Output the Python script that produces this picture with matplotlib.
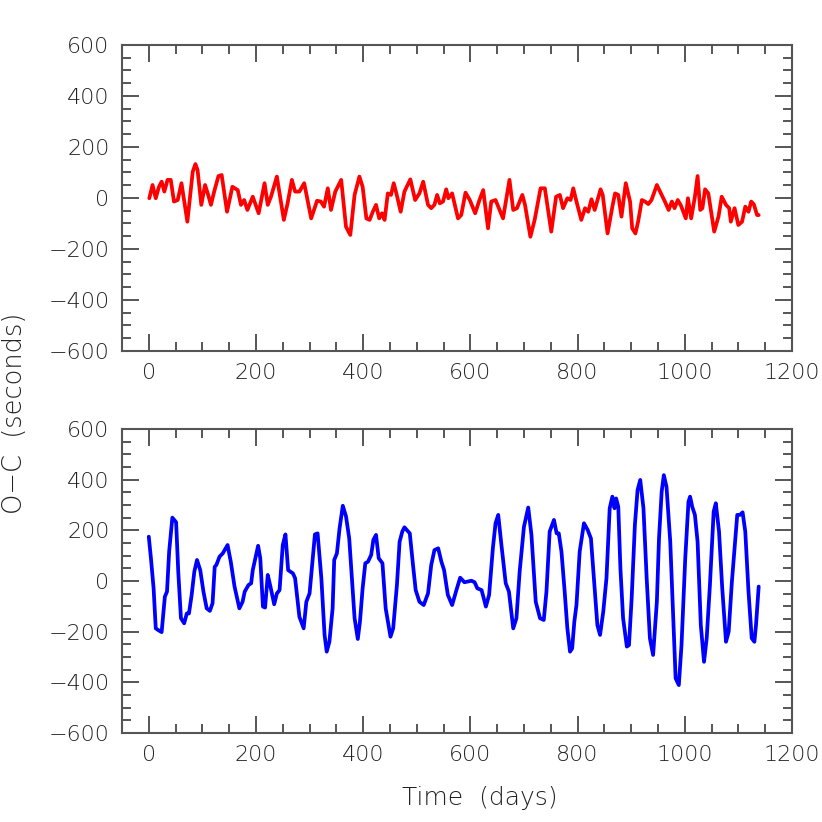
import matplotlib
matplotlib.use("Agg")
import matplotlib.pyplot as plt
from matplotlib.ticker import MultipleLocator

# Top panel (red): time (days), O-C (seconds)
t_top = [1, 7, 13, 19, 24, 29, 35, 41, 47, 54, 61, 72, 82, 87, 91, 98, 105, 110, 116, 122,
         130, 136, 146, 156, 166, 172, 178, 184, 194, 205, 216, 222, 228, 239, 252, 259, 267,
         273, 281, 290, 303, 314, 321, 327, 334, 340, 348, 359, 368, 376, 384, 393, 399, 406,
         412, 418, 424, 430, 435, 440, 446, 452, 457, 462, 470, 477, 488, 497, 505, 512, 521,
         527, 533, 538, 543, 549, 555, 559, 566, 577, 583, 591, 599, 609, 617, 624, 633, 639,
         647, 661, 673, 680, 687, 697, 702, 712, 720, 731, 739, 751, 760, 767, 773, 781, 787,
         792, 798, 807, 814, 820, 826, 832, 843, 847, 856, 865, 870, 876, 882, 890, 898, 902,
         908, 913, 920, 926, 932, 938, 948, 957, 963, 970, 976, 981, 987, 993, 1002, 1006, 1012,
         1019, 1024, 1029, 1033, 1038, 1044, 1055, 1063, 1069, 1077, 1083, 1086, 1093, 1100,
         1107, 1113, 1119, 1124, 1129, 1135, 1138]
v_top = [-1, 51, -1, 44, 64, 25, 71, 71, -14, -8, 58, -93, 103, 133, 110, -27, 51, 18, -27, 25,
         86, 90, -54, 44, 31, -27, -8, -47, 5, -60, 58, -27, 5, 84, -86, -21, 71,
         25, 25, 58, -80, -11, -14, -34, 38, -47, 25, 71, -113, -145, 12, 84, 44, -80,
         -86, -54, -27, -80, -60, -86, 18, 12, 58, 18, -54, 25, 73, -8, 18, 64, -27,
         -40, -27, 12, -21, -14, 34, -1, 18, -80, -67, 21, -8, -60, -8, 31, -119, -14,
         -8, -80, 71, -47, -40, 12, -27, -152, -86, 38, 38, -132, 5, 12, -40, -1, -8,
         38, -14, -86, -40, -54, -5, -47, 34, 12, -139, -34, 18, 12, -73, 58, -14, -119,
         -139, -93, -8, -14, -24, -8, 51, 12, -14, -47, -14, -40, -8, -30, -80, -1, -80,
         5, 86, -47, -40, 34, 18, -132, -73, 5, -27, -40, -93, -40, -106,
         -93, -34, -54, -14, -25, -67, -67]

# Bottom panel (blue)
t_bot = [0, 4, 9, 13, 17, 24, 27, 30, 34, 38, 44, 51, 55, 60, 66, 71, 75, 80, 85, 90,
         96, 102, 108, 114, 119, 123, 126, 132, 138, 147, 153, 160, 169, 175, 179, 186, 191,
         194, 204, 208, 213, 217, 222, 227, 234, 239, 244, 250, 255, 260, 269, 273, 281, 289,
         294, 300, 306, 310, 315, 322, 328, 332, 337, 343, 346, 351, 356, 362, 368, 374, 379,
         384, 390, 394, 399, 404, 409, 415, 419, 424, 429, 436, 442, 451, 456, 463, 468, 473,
         477, 487, 493, 498, 505, 513, 521, 527, 533, 540, 546, 551, 558, 566, 574, 581, 589,
         602, 608, 613, 621, 629, 635, 642, 647, 652, 658, 666, 672, 680, 686, 692, 700, 708,
         714, 722, 730, 737, 742, 748, 756, 761, 765, 770, 776, 781, 786, 790, 794, 798, 804,
         812, 819, 825, 831, 837, 842, 848, 854, 860, 865, 869, 872, 876, 880, 885, 892, 896,
         901, 907, 912, 917, 923, 929, 935, 941, 948, 952, 957, 961, 966, 973, 979, 983, 989,
         994, 1001, 1007, 1010, 1014, 1019, 1024, 1030, 1036, 1041, 1047, 1054, 1058, 1064,
         1070, 1077, 1082, 1088, 1094, 1098, 1103, 1108, 1113, 1119, 1125, 1130, 1133, 1138]
v_bot = [175, 90, -29, -187, -193, -202, -134, -62, -42, 116, 250, 232, 37, -147, -167, -128,
         -128, -55, 37, 83, 43, -42, -108, -118, -88, 56, 63, 96, 109, 142, 76, -22, -108,
         -82, -42, -16, -9, 43, 139, 90, -101, -105, 24, -22, -92, -49, -36, 142, 184, 43,
         30, 11, -141, -187, -82, -49, 90, 184, 188, 11, -213, -279, -240, -108, 83, 109,
         208, 297, 255, 168, 11, -147, -229, -161, -29, 70, 76, 103, 162, 182, 90, 70, -108,
         -220, -187, -16, 155, 195, 212, 188, 63, -36, -82, -95, -49, 63, 122, 129, 76, 43,
         -55, -95, -36, 13, -5, 1, -5, -29, -36, -101, -55, 129, 228, 261, 142, -9, -42,
         -187, -147, 37, 214, 290, 182, -82, -147, -154, -42, 195, 241, 188, 188, 116, -42,
         -187, -279, -266, -161, -95, 116, 228, 201, 168, -3, -174, -213, -121, 11, 287,
         333, 287, 326, 293, 50, -147, -259, -253, -68, 221, 359, 399, 287, 11, -226, -292,
         -82, 168, 353, 418, 372, 155, -174, -384, -411, -253, 90, 313, 333, 293, 261, 155,
         -174, -319, -226, -16, 274, 307, 195, -29, -240, -200, -3, 155, 261, 261, 271, 195,
         -42, -226, -240, -174, -22]

fig = plt.figure(figsize=(8.22, 8.22), dpi=100)
grey = "#555555"
txt = "#222222"


def style(ax):
    ax.set_xlim(-50, 1200)
    ax.set_ylim(-600, 600)
    ax.xaxis.set_major_locator(MultipleLocator(200))
    ax.xaxis.set_minor_locator(MultipleLocator(50))
    ax.yaxis.set_major_locator(MultipleLocator(200))
    ax.yaxis.set_minor_locator(MultipleLocator(50))
    ax.tick_params(which="both", direction="in", top=True, right=True, color=grey,
                   width=1.4, labelsize=16, labelcolor=txt, pad=9)
    ax.tick_params(which="major", length=12.5)
    ax.tick_params(which="minor", length=6.5)
    for s in ax.spines.values():
        s.set_color(grey)
        s.set_linewidth(1.5)
    for lab in ax.get_xticklabels() + ax.get_yticklabels():
        lab.set_fontweight("light")


ax1 = fig.add_axes([0.1484, 0.573, 0.815, 0.3723])
ax1.plot(t_top, v_top, color="#ff0000", lw=2.7, solid_joinstyle="round",
         solid_capstyle="round")
style(ax1)

ax2 = fig.add_axes([0.1484, 0.1083, 0.815, 0.3698])
ax2.plot(t_bot, v_bot, color="#0000ff", lw=2.7, solid_joinstyle="round",
         solid_capstyle="round")
style(ax2)

fig.text(480 / 822, 1 - 798 / 822, "Time  (days)", ha="center", va="center",
         fontsize=18, color=txt, fontweight="light")
fig.text(15 / 822, 1 - 413 / 822, "O\u2212C  (seconds)", ha="center", va="center",
         rotation=90, fontsize=18.5, color=txt, fontweight="light")

fig.savefig("out.png", dpi=100)
